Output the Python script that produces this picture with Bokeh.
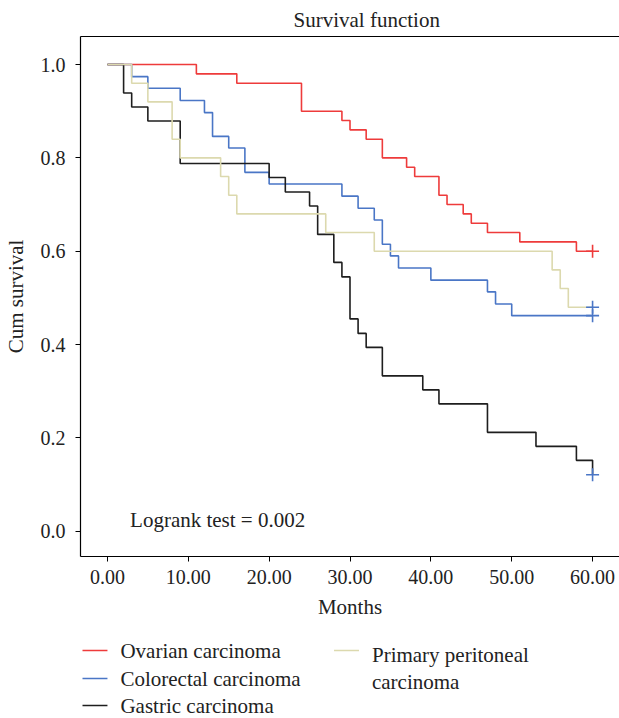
import textwrap
from bokeh.plotting import figure
from bokeh.models import Range1d, FixedTicker, NumeralTickFormatter, Label, LinearAxis
from bokeh.layouts import column
from bokeh.embed import file_html
from bokeh.resources import INLINE
from bokeh.core.properties import value

FONT = "Liberation Serif"
TXT = "#222222"

# ---------------- data ----------------
series_names = ["Ovarian carcinoma", "Colorectal carcinoma", "Gastric carcinoma",
                "Primary peritoneal carcinoma"]
series_colors = ["#ee3b3b", "#4a76c6", "#1e1e1e", "#dcd9ae"]

ovarian_t = [0, 11, 16, 24, 29, 30, 32, 34, 37, 38, 41, 42, 44, 45, 47, 51, 58, 60]
ovarian_s = [1.0, 0.98, 0.96, 0.90, 0.88, 0.86, 0.84, 0.80, 0.78, 0.76, 0.72, 0.70,
             0.68, 0.66, 0.64, 0.62, 0.60, 0.60]

colorectal_t = [0, 3, 5, 9, 12, 13, 15, 17, 20, 29, 31, 33, 34, 35, 36, 40, 47, 48, 50, 60]
colorectal_s = [1.0, 0.974, 0.949, 0.923, 0.897, 0.846, 0.821, 0.769, 0.744, 0.718,
                0.692, 0.667, 0.615, 0.590, 0.564, 0.538, 0.513, 0.487, 0.462, 0.462]

gastric_t = [0, 2, 3, 5, 9, 20, 22, 25, 26, 28, 29, 30, 31, 32, 34, 39, 41, 47, 53, 58, 60]
gastric_s = [1.0, 0.939, 0.909, 0.879, 0.788, 0.758, 0.727, 0.697, 0.636, 0.576, 0.545,
             0.455, 0.424, 0.394, 0.333, 0.303, 0.273, 0.212, 0.182, 0.152, 0.121]

peritoneal_t = [0, 3, 5, 8, 9, 14, 15, 16, 27, 33, 55, 56, 57, 60]
peritoneal_s = [1.0, 0.96, 0.92, 0.84, 0.80, 0.76, 0.72, 0.68, 0.64, 0.60, 0.56, 0.52,
                0.48, 0.48]

censor_t = [60, 60, 60, 60]
censor_s = [0.60, 0.48, 0.462, 0.121]
censor_colors = ["#ee3b3b", "#4a76c6", "#4a76c6", "#4a76c6"]

x_ticks = [0, 10, 20, 30, 40, 50, 60]
y_ticks = [0.0, 0.2, 0.4, 0.6, 0.8, 1.0]

title_text = "Survival function"
x_label = "Months"
y_label = "Cum survival"
note_text = "Logrank test = 0.002"

curves = [(ovarian_t, ovarian_s), (colorectal_t, colorectal_s),
          (gastric_t, gastric_s), (peritoneal_t, peritoneal_s)]

# ---------------- main figure ----------------
p = figure(width=619, height=625,
           x_range=Range1d(-3.33, 63.33), y_range=Range1d(-0.054, 1.06),
           output_backend="svg", toolbar_location=None, title=title_text,
           min_border_left=79, min_border_right=0, min_border_top=36,
           min_border_bottom=69)
p.outline_line_color = None
p.background_fill_color = "white"
p.border_fill_color = "white"
p.xgrid.grid_line_color = None
p.ygrid.grid_line_color = None

p.title.text_font = FONT
p.title.text_font_size = "21px"
p.title.text_font_style = "normal"
p.title.text_color = TXT
p.title.align = "left"
p.title.offset = 213

for ax in (p.xaxis[0], p.yaxis[0]):
    ax.axis_line_color = "black"
    ax.axis_line_width = 1.2
    ax.major_tick_line_color = "black"
    ax.major_tick_in = 0
    ax.major_tick_out = 5
    ax.minor_tick_line_color = None
    ax.major_label_text_font = FONT
    ax.major_label_text_font_size = "20px"
    ax.major_label_text_color = TXT
    ax.axis_label_text_font = FONT
    ax.axis_label_text_font_size = "21px"
    ax.axis_label_text_font_style = "normal"
    ax.axis_label_text_color = TXT

p.xaxis.ticker = FixedTicker(ticks=x_ticks)
p.xaxis.formatter = NumeralTickFormatter(format="0.00")
p.yaxis.ticker = FixedTicker(ticks=y_ticks)
p.yaxis.formatter = NumeralTickFormatter(format="0.0")
p.xaxis.axis_label = x_label
p.yaxis.axis_label = y_label
p.xaxis.major_label_standoff = 8
p.yaxis.major_label_standoff = 10
p.xaxis.axis_label_standoff = 8
p.yaxis.axis_label_standoff = 10

top = LinearAxis(ticker=FixedTicker(ticks=[]), major_label_text_font_size="0px",
                 major_tick_line_color=None, minor_tick_line_color=None,
                 axis_line_color="black", axis_line_width=1.2)
p.add_layout(top, "above")

for (t, s), c in zip(curves, series_colors):
    p.step(t, s, mode="after", line_color=c, line_width=1.6)

p.scatter(censor_t, censor_s, marker="cross", size=13, line_color=censor_colors,
          line_width=1.6)

p.add_layout(Label(x=2.8, y=0.024, text=note_text, text_font=FONT,
                   text_font_size="21px", text_baseline="middle", text_color=TXT))

# ---------------- legend figure ----------------
# (its frame is aligned by the column layout with the main frame: x 79..619)
LH = 93
lg = figure(width=619, height=LH, x_range=Range1d(79, 619), y_range=Range1d(LH, 0),
            output_backend="svg", toolbar_location=None, min_border=0,
            min_border_left=79, min_border_right=0,
            x_axis_location=None, y_axis_location=None)
lg.outline_line_color = None
lg.xgrid.grid_line_color = None
lg.ygrid.grid_line_color = None

col_x = [81, 333]
row_y = [25, 53, 80]
for i, (name, c) in enumerate(zip(series_names, series_colors)):
    cx = col_x[i // 3]
    ry = row_y[i % 3]
    lines = textwrap.wrap(name, 20)
    lg.line([cx, cx + 25], [ry, ry], line_color=c, line_width=1.4)
    off = 4 if len(lines) > 1 else 0
    for k, ln in enumerate(lines):
        lg.text([cx + 38], [ry + off + 27 * k], text=[ln], text_font=value(FONT),
                text_font_size="21px", text_baseline="middle", text_color=TXT)

layout = column(p, lg, spacing=0)
open("out.html", "w").write(file_html(layout, INLINE))
